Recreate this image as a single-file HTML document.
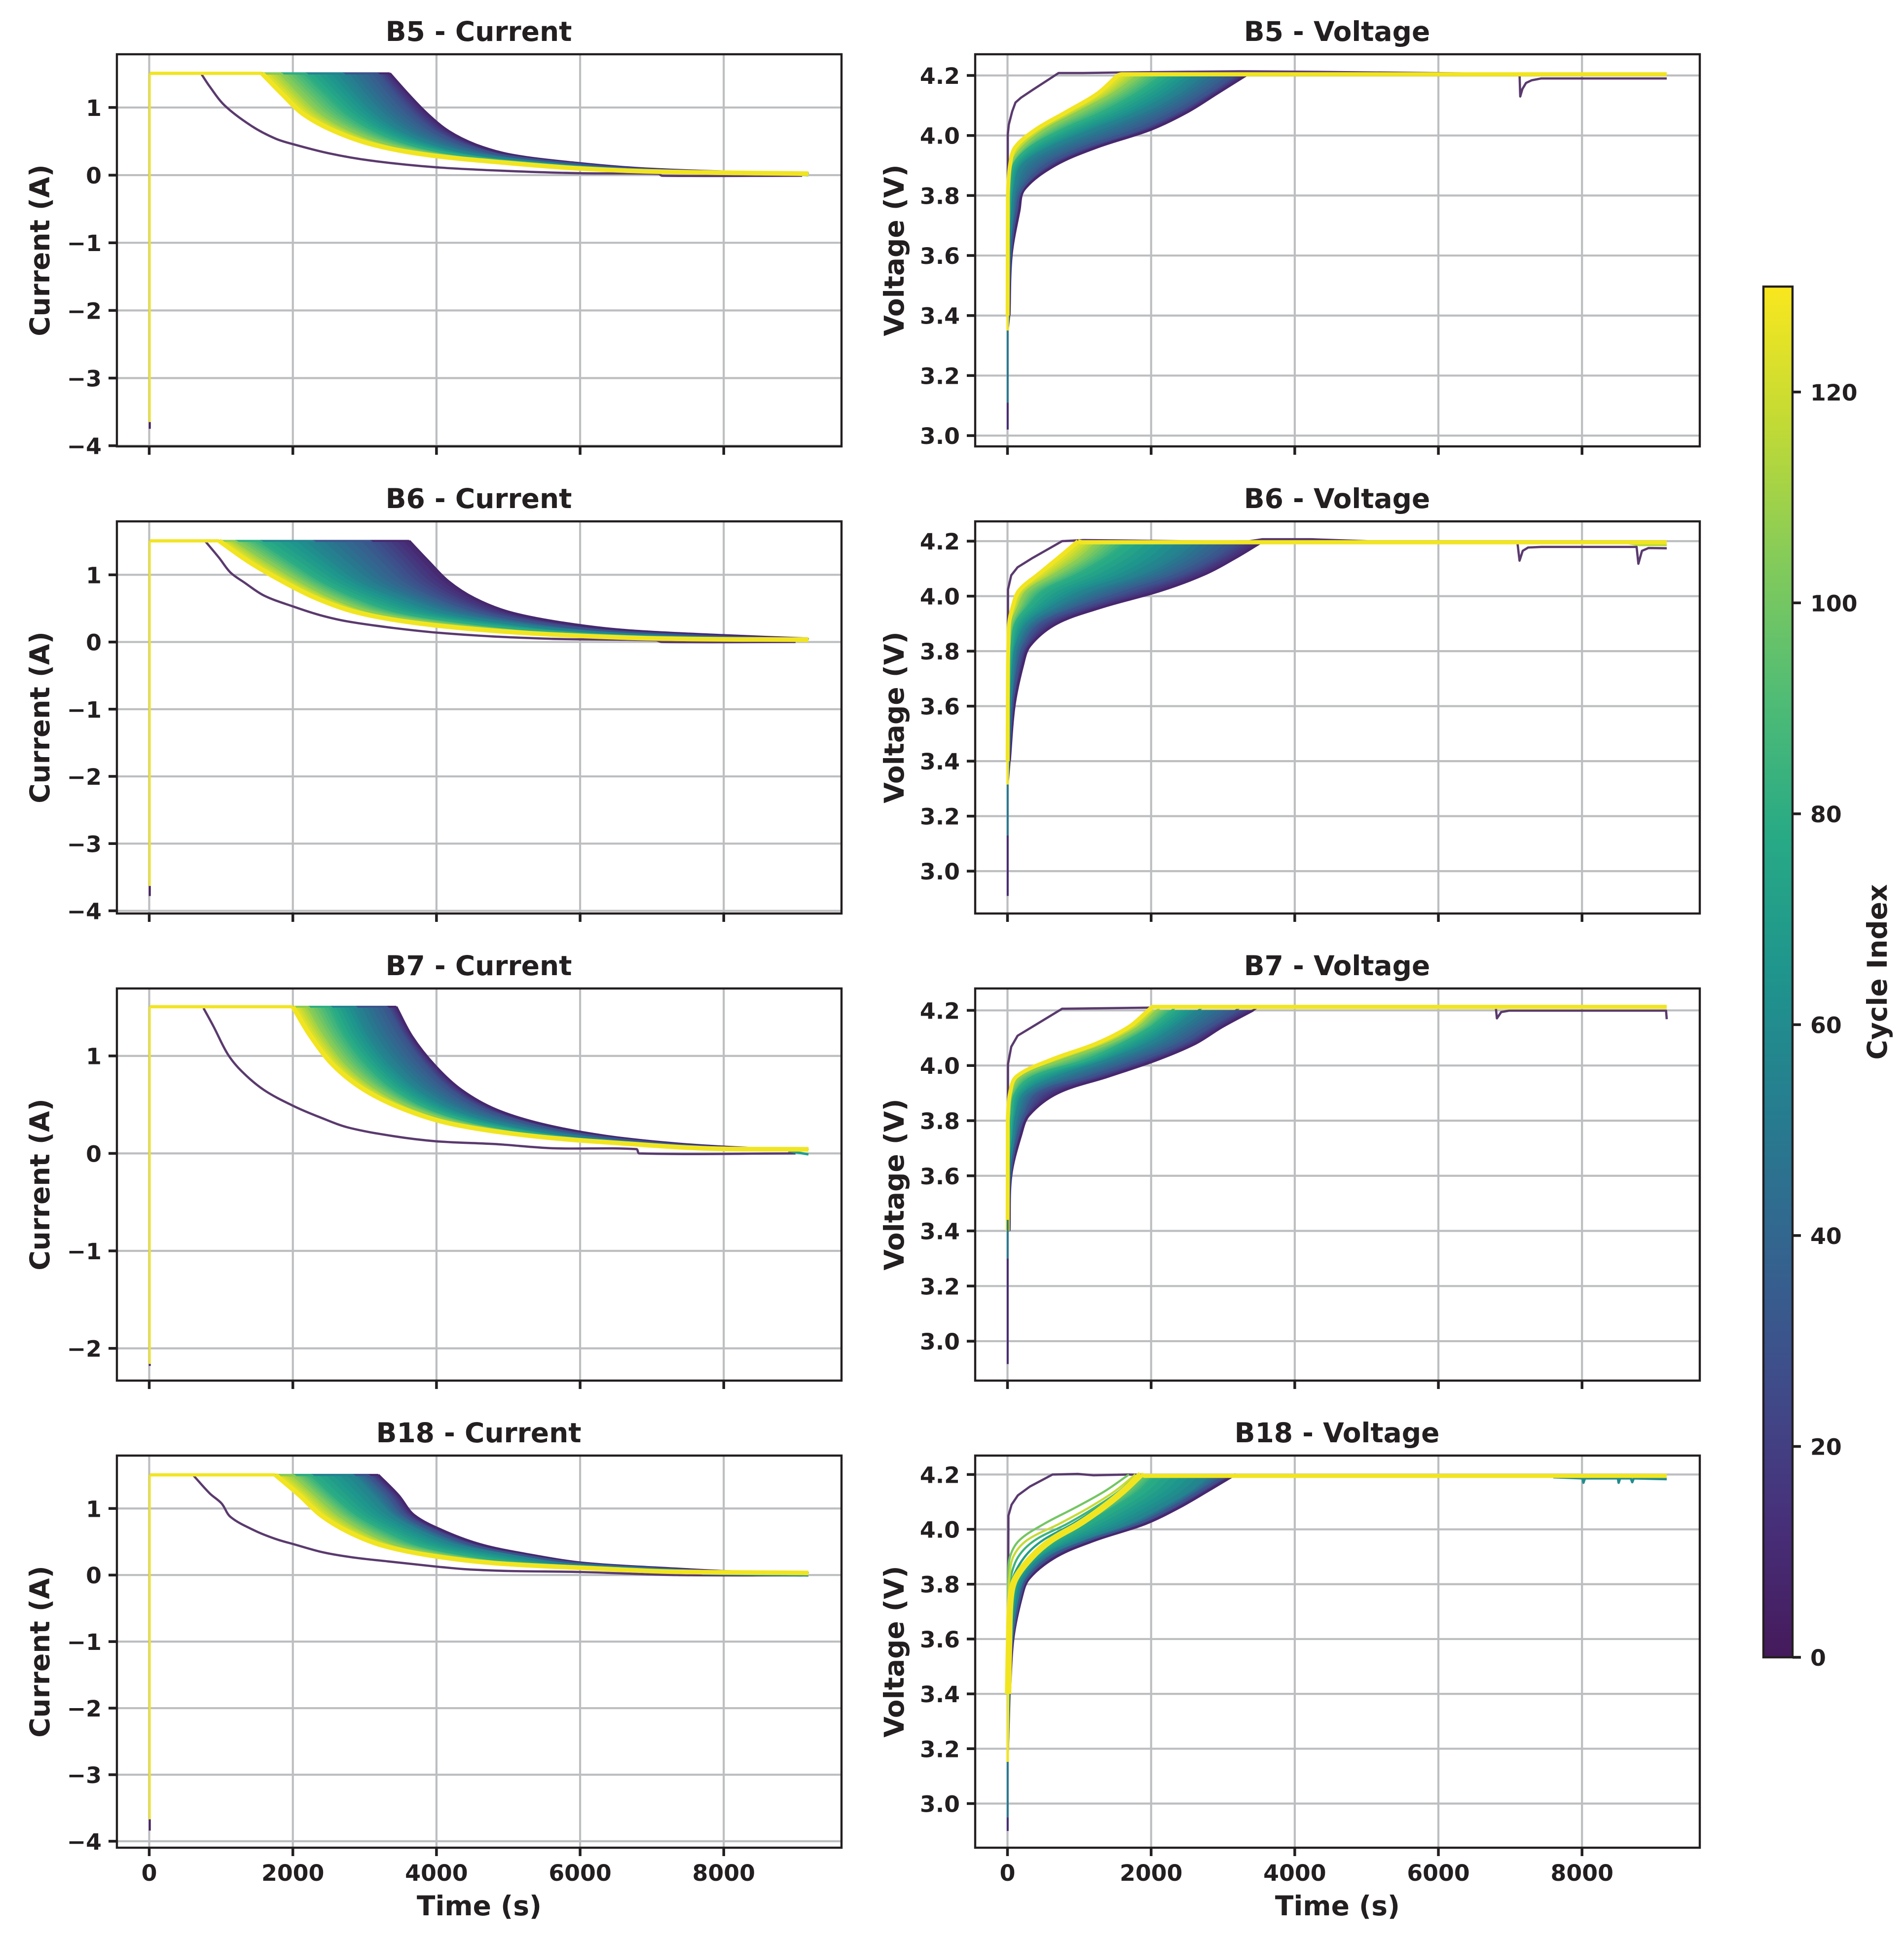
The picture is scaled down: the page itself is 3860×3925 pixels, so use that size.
<!DOCTYPE html>
<html lang="en">
<head>
<meta charset="utf-8">
<title>Battery charge current and voltage by cycle</title>
<style>
  html, body { margin: 0; padding: 0; background: #ffffff; }
  body { width: 3860px; height: 3925px; overflow: hidden; }
  svg { display: block; }
  text { font-family: "DejaVu Sans", "Liberation Sans", sans-serif; font-weight: 700; fill: #231f20; }
</style>
</head>
<body>
<svg id="chart" xmlns="http://www.w3.org/2000/svg" width="3860" height="3925" viewBox="0 0 3860 3925">
  <rect x="0" y="0" width="3860" height="3925" fill="#ffffff"/>
</svg>
<script>
// ---------- shared axes data ----------
const xLimits = [-450, 9640];
const xTicks = [0, 2000, 4000, 6000, 8000];
const xTickLabels = ['0', '2000', '4000', '6000', '8000'];
const currentTicks = [1, 0, -1, -2, -3, -4];
const currentTickLabels = ['1', '0', '\u22121', '\u22122', '\u22123', '\u22124'];
const b7CurrentTicks = [1, 0, -1, -2];
const b7CurrentTickLabels = ['1', '0', '\u22121', '\u22122'];
const voltageTicks = [4.2, 4.0, 3.8, 3.6, 3.4, 3.2, 3.0];
const voltageTickLabels = ['4.2', '4.0', '3.8', '3.6', '3.4', '3.2', '3.0'];
const colorbarTicks = [0, 20, 40, 60, 80, 100, 120];
const colorbarTickLabels = ['0', '20', '40', '60', '80', '100', '120'];
const colorbarRange = [0, 130];

// Cycle index of each typed fan curve (dark to yellow)
const fanCycles = [8, 30, 55, 80, 105, 128];
// Current levels (A) and voltage levels (V) at which curve times were read
const currentLevels = [1.505, 1.2, 0.9, 0.65, 0.45, 0.3, 0.18, 0.1, 0.05];
const voltageLevels = [3.4, 3.6, 3.75, 3.82, 3.9, 3.96, 4.02, 4.08, 4.14, 4.2];
const lastTime = [9180];

// ---------- B5 current ----------
const b5CurrentYLim = [-4.01, 1.787];
const b5CurrentC8 = [3350, 3605, 3880, 4170, 4550, 5050, 5950, 6850, 8050];
const b5CurrentC30 = [3180, 3400, 3660, 3960, 4370, 4900, 5830, 6730, 7930];
const b5CurrentC55 = [2700, 2930, 3200, 3530, 3980, 4580, 5570, 6500, 7690];
const b5CurrentC80 = [2180, 2470, 2770, 3150, 3640, 4300, 5340, 6290, 7470];
const b5CurrentC105 = [1840, 2110, 2410, 2820, 3340, 4050, 5150, 6110, 7280];
const b5CurrentC128 = [1570, 1850, 2150, 2580, 3120, 3870, 5000, 5980, 7150];
const b5CurrentEnd = [0.03, 0.03, 0.028, 0.025, 0.022, 0.022];
const b5CurrentFirstT = [717, 842, 1050, 1425, 1758, 2008, 2508, 3092, 4000, 5008, 6000, 7092, 7142, 9092];
const b5CurrentFirstI = [1.51, 1.31, 1.03, 0.727, 0.54, 0.456, 0.321, 0.214, 0.116, 0.061, 0.028, 0.019, -0.009, -0.009];
const b5CurrentStub = [-3.75, -3.65];
const b5CurrentTailT = [8700, 9000, 9180];
const b5CurrentTailI = [0.02, 0.01, 0];

// ---------- B5 voltage ----------
const b5VoltageYLim = [2.964, 4.2707];
const b5VoltageC8 = [25, 55, 165, 234, 660, 1240, 2000, 2520, 2920, 3320];
const b5VoltageC30 = [20, 45, 125, 203, 530, 1060, 1820, 2360, 2780, 3140];
const b5VoltageC55 = [12, 28, 65, 95, 200, 590, 1200, 1850, 2320, 2650];
const b5VoltageC80 = [6, 12, 28, 34, 80, 310, 770, 1340, 1800, 2160];
const b5VoltageC105 = [3, 5, 12, 15, 40, 210, 526, 1000, 1470, 1820];
const b5VoltageC128 = [2, 3, 5, 8, 35, 105, 395, 830, 1255, 1530];
const b5VoltageEnd = [4.2, 4.2, 4.202, 4.202, 4.204, 4.204];
const b5VoltageFirstT = [4, 4, 18, 65, 111, 188, 357, 557, 711, 1049, 1572, 3230, 4320, 7130, 7140, 7170, 7220, 7300, 7430, 9180];
const b5VoltageFirstV = [3.4, 4.003, 4.036, 4.08, 4.11, 4.126, 4.153, 4.184, 4.208, 4.208, 4.21, 4.214, 4.212, 4.205, 4.13, 4.155, 4.175, 4.184, 4.19, 4.19];
const b5VoltageStub = [3.02, 3.11, 3.35];

// ---------- B6 current ----------
const b6CurrentYLim = [-4.04, 1.795];
const b6CurrentC8 = [3620, 3890, 4170, 4530, 5000, 5680, 6580, 7980, 9170];
const b6CurrentC30 = [3080, 3350, 3640, 4060, 4590, 5300, 6230, 7550, 8900];
const b6CurrentC55 = [2280, 2620, 2990, 3520, 4065, 4850, 5800, 7050, 8400];
const b6CurrentC80 = [1545, 1970, 2405, 2900, 3450, 4300, 5300, 6500, 7900];
const b6CurrentC105 = [1200, 1640, 2100, 2560, 3080, 3880, 4950, 6060, 7450];
const b6CurrentC128 = [975, 1380, 1860, 2330, 2860, 3600, 4650, 5830, 7200];
const b6CurrentEnd = [0.05, 0.05, 0.045, 0.04, 0.036, 0.034];
const b6CurrentFirstT = [780, 975, 1130, 1325, 1600, 2004, 2378, 2768, 3392, 4000, 4795, 5614, 6004, 7056, 7135, 9000];
const b6CurrentFirstI = [1.5, 1.25, 1.035, 0.885, 0.69, 0.528, 0.4, 0.305, 0.21, 0.14, 0.082, 0.047, 0.039, 0.026, 0, 0];
const b6CurrentStub = [-3.78, -3.63];

// ---------- B6 voltage ----------
const b6VoltageYLim = [2.846, 4.272];
const b6VoltageC8 = [30, 95, 215, 315, 685, 1320, 2135, 2750, 3180, 3560];
const b6VoltageC30 = [22, 70, 150, 230, 460, 1000, 1690, 2400, 2860, 3175];
const b6VoltageC55 = [14, 42, 80, 120, 275, 620, 1090, 1800, 2240, 2505];
const b6VoltageC80 = [7, 15, 30, 55, 110, 280, 500, 980, 1380, 1690];
const b6VoltageC105 = [4, 7, 14, 25, 52, 150, 275, 660, 1030, 1280];
const b6VoltageC128 = [2, 4, 7, 12, 22, 70, 160, 430, 710, 982];
const b6VoltageEnd = [4.2, 4.2, 4.199, 4.198, 4.196, 4.196];
const b6VoltageFirstT = [4, 7, 52, 141, 350, 760, 1060, 3300, 3550, 4228, 5645, 7100, 7130, 7175, 7250, 7435, 8760, 8785, 8835, 8925, 9180];
const b6VoltageFirstV = [3.4, 4.024, 4.076, 4.105, 4.139, 4.2, 4.204, 4.197, 4.207, 4.207, 4.194, 4.196, 4.129, 4.165, 4.177, 4.179, 4.179, 4.118, 4.165, 4.175, 4.174];
const b6VoltageStub = [2.91, 3.13, 3.315];
const b6VoltageTailT = [8600, 8800, 9180];
const b6VoltageTailV = [4.195, 4.186, 4.186];

// ---------- B7 current ----------
const b7CurrentYLim = [-2.331, 1.692];
const b7CurrentC8 = [3440, 3660, 3980, 4350, 4830, 5480, 6350, 7350, 8500];
const b7CurrentC30 = [3310, 3540, 3840, 4190, 4660, 5320, 6200, 7200, 8350];
const b7CurrentC55 = [2880, 3090, 3400, 3770, 4260, 4940, 5880, 6990, 8150];
const b7CurrentC80 = [2530, 2740, 3050, 3430, 3930, 4620, 5620, 6850, 8000];
const b7CurrentC105 = [2220, 2460, 2770, 3190, 3720, 4390, 5450, 6750, 7900];
const b7CurrentC128 = [2000, 2250, 2570, 3000, 3560, 4230, 5320, 6650, 7800];
const b7CurrentEnd = [0.042, 0.042, 0.042, 0.042, 0.042, 0.042];
const b7CurrentFirstT = [756, 897, 1092, 1287, 1598, 2004, 2378, 2768, 3392, 4000, 4834, 5614, 6784, 6823, 9000];
const b7CurrentFirstI = [1.49, 1.3, 1.02, 0.843, 0.65, 0.488, 0.37, 0.266, 0.178, 0.124, 0.095, 0.053, 0.044, 0, 0];
const b7CurrentStub = [-2.18, -2.16];
const b7CurrentTailT = [8900, 9100, 9180];
const b7CurrentTailI = [0.025, 0, -0.01];

// ---------- B7 voltage ----------
const b7VoltageYLim = [2.857, 4.2795];
const b7VoltageC8 = [25, 50, 190, 300, 700, 1400, 2080, 2620, 2990, 3420];
const b7VoltageC30 = [20, 42, 145, 240, 425, 1150, 1840, 2420, 2800, 3180];
const b7VoltageC55 = [12, 25, 85, 120, 240, 700, 1390, 1970, 2350, 2660];
const b7VoltageC80 = [6, 12, 35, 55, 110, 360, 1095, 1600, 2000, 2290];
const b7VoltageC105 = [3, 5, 10, 20, 52, 180, 760, 1400, 1830, 2080];
const b7VoltageC128 = [2, 3, 4, 6, 35, 125, 600, 1240, 1690, 1960];
const b7VoltageEnd = [4.21, 4.21, 4.211, 4.212, 4.212, 4.2125];
const b7VoltageFirstT = [4, 7, 52, 141, 350, 760, 2028, 6800, 6815, 6875, 6985, 9170, 9180];
const b7VoltageFirstV = [3.4, 4.005, 4.068, 4.108, 4.141, 4.206, 4.21, 4.21, 4.171, 4.194, 4.199, 4.199, 4.168];
const b7VoltageStub = [2.917, 3.3, 3.44];

// ---------- B18 current ----------
const b18CurrentYLim = [-4.097, 1.795];
const b18CurrentC8 = [3190, 3470, 3690, 4130, 4650, 5330, 6060, 7250, 8200];
const b18CurrentC30 = [3050, 3330, 3560, 3990, 4500, 5200, 5950, 7100, 8050];
const b18CurrentC55 = [2840, 3100, 3370, 3780, 4270, 5000, 5700, 6900, 7850];
const b18CurrentC80 = [2260, 2560, 2900, 3320, 3750, 4400, 5200, 6550, 7600];
const b18CurrentC105 = [2010, 2320, 2640, 3010, 3450, 4080, 4950, 6350, 7450];
const b18CurrentC128 = [1758, 2092, 2390, 2770, 3230, 3880, 4800, 6200, 7300];
const b18CurrentEnd = [0.035, 0.035, 0.03, 0.03, 0.03, 0.03];
const b18CurrentFirstT = [608, 842, 1008, 1133, 1467, 1758, 2000, 2425, 2842, 3342, 4000, 4425, 5008, 6000, 7342, 9092];
const b18CurrentFirstI = [1.506, 1.227, 1.075, 0.872, 0.669, 0.543, 0.467, 0.34, 0.264, 0.203, 0.127, 0.086, 0.061, 0.046, 0, -0.005];
const b18CurrentStub = [-3.84, -3.67];
const b18CurrentTailT = [7700, 8500, 9180];
const b18CurrentTailI = [0.02, 0.005, -0.005];

// ---------- B18 voltage ----------
const b18VoltageYLim = [2.839, 4.269];
const b18VoltageC8 = [30, 79, 195, 300, 680, 1220, 1920, 2395, 2790, 3174];
const b18VoltageC30 = [26, 70, 175, 270, 600, 1130, 1820, 2290, 2680, 3060];
const b18VoltageC55 = [22, 58, 140, 220, 500, 1000, 1660, 2130, 2530, 2800];
const b18VoltageC80 = [12, 30, 75, 130, 380, 680, 1080, 1480, 1830, 2060];
const b18VoltageC105 = [8, 22, 44, 110, 342, 606, 1000, 1330, 1615, 1857];
const b18VoltageC128 = [8, 22, 44, 110, 342, 606, 1000, 1330, 1615, 1857];
const b18VoltageEnd = [4.192, 4.192, 4.192, 4.193, 4.194, 4.195];
const b18VoltageFirstT = [4, 13, 57, 145, 312, 628, 979, 1198, 1681, 2000, 9180];
const b18VoltageFirstV = [3.4, 4.05, 4.09, 4.124, 4.156, 4.2, 4.202, 4.197, 4.2, 4.198, 4.192];
const b18VoltageStub = [2.9, 2.95, 3.152];
// Separate early-fan strands in B18 voltage
const b18VoltageStrandCycles = [70, 85, 100, 118];
const b18VoltageStrand70 = [7, 14, 30, 70, 240, 490, 910, 1270, 1590, 1830];
const b18VoltageStrand85 = [6, 10, 20, 40, 150, 380, 830, 1220, 1560, 1810];
const b18VoltageStrand100 = [3, 5, 8, 10, 35, 165, 510, 950, 1360, 1690];
const b18VoltageStrand118 = [5, 8, 15, 25, 80, 270, 720, 1140, 1500, 1780];
// Tail with small dips, cycle 60
const b18VoltageTailT = [7600, 8010, 8020, 8040, 8500, 8510, 8530, 8680, 8700, 8720, 9180];
const b18VoltageTailV = [4.19, 4.186, 4.17, 4.186, 4.186, 4.17, 4.186, 4.186, 4.172, 4.186, 4.183];

// ---------- layout and palette ----------
const SVG_NS = 'http://www.w3.org/2000/svg';
const chart = document.getElementById('chart');
const colLeft = [237, 1977];
const rowTop = [110, 1057, 2004, 2951];
const AXES_W = 1469;
const AXES_H = 795;
const INK = '#231f20';
const GRID = '#bcbec0';
const FIRST_CYCLE_COLOR = '#5a3a6e';
const BAND_STRIPS = 6;
const viridisStops = ['#451a5b', '#47307a', '#3f4c8a', '#33658f', '#267d8f', '#1f958d', '#28aa85', '#50bc75', '#84cb5a', '#c2da35', '#f9e71e'];

function hexToRgb(h) {
  return [parseInt(h.slice(1, 3), 16), parseInt(h.slice(3, 5), 16), parseInt(h.slice(5, 7), 16)];
}
function viridis(cycle) {
  const f = Math.max(0, Math.min(1, cycle / colorbarRange[1])) * (viridisStops.length - 1);
  const i = Math.min(viridisStops.length - 2, Math.floor(f));
  const a = hexToRgb(viridisStops[i]);
  const b = hexToRgb(viridisStops[i + 1]);
  const u = f - i;
  return 'rgb(' + a.map(function (c, k) { return Math.round(c + (b[k] - c) * u); }).join(',') + ')';
}
function make(tag, attrs, parent) {
  const el = document.createElementNS(SVG_NS, tag);
  Object.keys(attrs).forEach(function (k) { el.setAttribute(k, attrs[k]); });
  parent.appendChild(el);
  return el;
}
function pathFrom(points) {
  return points.map(function (p, i) { return (i ? 'L' : 'M') + p[0].toFixed(1) + ' ' + p[1].toFixed(1); }).join(' ');
}
// Smooth pen path through already-projected points (sharp at both ends)
function smoothSegments(pts) {
  function dir(i) {
    const a = pts[Math.max(i - 1, 0)];
    const b = pts[Math.min(i + 1, pts.length - 1)];
    const dx = b[0] - a[0];
    const dy = b[1] - a[1];
    const n = Math.hypot(dx, dy) || 1;
    return [dx / n, dy / n];
  }
  let d = '';
  for (let i = 0; i < pts.length - 1; i++) {
    const p = pts[i];
    const q = pts[i + 1];
    const len = Math.hypot(q[0] - p[0], q[1] - p[1]) / 3;
    const d0 = dir(i);
    const d1 = dir(i + 1);
    d += ' C' + (p[0] + d0[0] * len).toFixed(1) + ' ' + (p[1] + d0[1] * len).toFixed(1) + ' ' +
      (q[0] - d1[0] * len).toFixed(1) + ' ' + (q[1] - d1[1] * len).toFixed(1) + ' ' +
      q[0].toFixed(1) + ' ' + q[1].toFixed(1);
  }
  return d;
}

const panels = [
  { key: 'b5-current', title: 'B5 - Current', label: 'Current (A)', kind: 'current', col: 0, row: 0, yLim: b5CurrentYLim, ticks: currentTicks, tickLabels: currentTickLabels,
    fan: [b5CurrentC8, b5CurrentC30, b5CurrentC55, b5CurrentC80, b5CurrentC105, b5CurrentC128], end: b5CurrentEnd, firstT: b5CurrentFirstT, firstV: b5CurrentFirstI, stub: b5CurrentStub, tailT: b5CurrentTailT, tailV: b5CurrentTailI, tailCycle: 80 },
  { key: 'b5-voltage', title: 'B5 - Voltage', label: 'Voltage (V)', kind: 'voltage', col: 1, row: 0, yLim: b5VoltageYLim, ticks: voltageTicks, tickLabels: voltageTickLabels,
    fan: [b5VoltageC8, b5VoltageC30, b5VoltageC55, b5VoltageC80, b5VoltageC105, b5VoltageC128], end: b5VoltageEnd, firstT: b5VoltageFirstT, firstV: b5VoltageFirstV, stub: b5VoltageStub },
  { key: 'b6-current', title: 'B6 - Current', label: 'Current (A)', kind: 'current', col: 0, row: 1, yLim: b6CurrentYLim, ticks: currentTicks, tickLabels: currentTickLabels,
    fan: [b6CurrentC8, b6CurrentC30, b6CurrentC55, b6CurrentC80, b6CurrentC105, b6CurrentC128], end: b6CurrentEnd, firstT: b6CurrentFirstT, firstV: b6CurrentFirstI, stub: b6CurrentStub },
  { key: 'b6-voltage', title: 'B6 - Voltage', label: 'Voltage (V)', kind: 'voltage', col: 1, row: 1, yLim: b6VoltageYLim, ticks: voltageTicks, tickLabels: voltageTickLabels,
    fan: [b6VoltageC8, b6VoltageC30, b6VoltageC55, b6VoltageC80, b6VoltageC105, b6VoltageC128], end: b6VoltageEnd, firstT: b6VoltageFirstT, firstV: b6VoltageFirstV, stub: b6VoltageStub, tailT: b6VoltageTailT, tailV: b6VoltageTailV, tailCycle: 115 },
  { key: 'b7-current', title: 'B7 - Current', label: 'Current (A)', kind: 'current', col: 0, row: 2, yLim: b7CurrentYLim, ticks: b7CurrentTicks, tickLabels: b7CurrentTickLabels,
    fan: [b7CurrentC8, b7CurrentC30, b7CurrentC55, b7CurrentC80, b7CurrentC105, b7CurrentC128], end: b7CurrentEnd, firstT: b7CurrentFirstT, firstV: b7CurrentFirstI, stub: b7CurrentStub, tailT: b7CurrentTailT, tailV: b7CurrentTailI, tailCycle: 70 },
  { key: 'b7-voltage', title: 'B7 - Voltage', label: 'Voltage (V)', kind: 'voltage', col: 1, row: 2, yLim: b7VoltageYLim, ticks: voltageTicks, tickLabels: voltageTickLabels,
    fan: [b7VoltageC8, b7VoltageC30, b7VoltageC55, b7VoltageC80, b7VoltageC105, b7VoltageC128], end: b7VoltageEnd, firstT: b7VoltageFirstT, firstV: b7VoltageFirstV, stub: b7VoltageStub },
  { key: 'b18-current', title: 'B18 - Current', label: 'Current (A)', kind: 'current', col: 0, row: 3, yLim: b18CurrentYLim, ticks: currentTicks, tickLabels: currentTickLabels,
    fan: [b18CurrentC8, b18CurrentC30, b18CurrentC55, b18CurrentC80, b18CurrentC105, b18CurrentC128], end: b18CurrentEnd, firstT: b18CurrentFirstT, firstV: b18CurrentFirstI, stub: b18CurrentStub, tailT: b18CurrentTailT, tailV: b18CurrentTailI, tailCycle: 60 },
  { key: 'b18-voltage', title: 'B18 - Voltage', label: 'Voltage (V)', kind: 'voltage', col: 1, row: 3, yLim: b18VoltageYLim, ticks: voltageTicks, tickLabels: voltageTickLabels,
    fan: [b18VoltageC8, b18VoltageC30, b18VoltageC55, b18VoltageC80, b18VoltageC105, b18VoltageC128], end: b18VoltageEnd, firstT: b18VoltageFirstT, firstV: b18VoltageFirstV, stub: b18VoltageStub, heavyYellow: true,
    strands: [b18VoltageStrand70, b18VoltageStrand85, b18VoltageStrand100, b18VoltageStrand118], strandCycles: b18VoltageStrandCycles, tailT: b18VoltageTailT, tailV: b18VoltageTailV, tailCycle: 60 }
];

function drawPanel(p) {
  const left = colLeft[p.col];
  const top = rowTop[p.row];
  const xAxis = function (t) { return left + (t - xLimits[0]) / (xLimits[1] - xLimits[0]) * AXES_W; };
  const yAxis = function (v) { return top + AXES_H - (v - p.yLim[0]) / (p.yLim[1] - p.yLim[0]) * AXES_H; };
  const isCurrent = p.kind === 'current';
  const levels = isCurrent ? currentLevels : voltageLevels;
  const stubT = isCurrent ? 8 : 3;

  const g = make('g', {}, chart);
  
  

  const clip = make('clipPath', { id: 'clip-' + p.key }, g);
  make('rect', { x: left, y: top, width: AXES_W, height: AXES_H }, clip);

  // grid
  xTicks.forEach(function (t) {
    const line = make('line', { x1: xAxis(t), x2: xAxis(t), y1: top, y2: top + AXES_H, stroke: GRID, 'stroke-width': 4.2 }, g);
    
    
  });
  p.ticks.forEach(function (v) {
    const line = make('line', { x1: left, x2: left + AXES_W, y1: yAxis(v), y2: yAxis(v), stroke: GRID, 'stroke-width': 4.2 }, g);
    
    
  });

  const marks = make('g', { 'clip-path': 'url(#clip-' + p.key + ')', fill: 'none', 'stroke-linejoin': 'round' }, g);
  
  

  // early-life curve
  const firstPts = p.firstT.map(function (t, i) { return [xAxis(t), yAxis(p.firstV[i])]; });
  const firstD = isCurrent ? 'M' + firstPts[0][0].toFixed(1) + ' ' + firstPts[0][1].toFixed(1) + smoothSegments(firstPts) : pathFrom(firstPts);
  const first = make('path', { d: firstD, stroke: FIRST_CYCLE_COLOR, 'stroke-width': 4.6 }, marks);
  
  

  // curve points for every fan cycle (current curves also run on to their end value)
  const curves = p.fan.map(function (times, k) {
    const pts = times.map(function (t, i) { return [xAxis(t), yAxis(levels[i])]; });
    if (isCurrent) pts.push([xAxis(lastTime[0]), yAxis(p.end[k])]);
    return pts;
  });

  // filled bands between neighbouring typed curves, shaded across their width
  for (let k = 0; k < curves.length - 1; k++) {
    for (let s = 0; s < BAND_STRIPS; s++) {
      const u0 = s / BAND_STRIPS;
      const u1 = (s + 1) / BAND_STRIPS;
      const edgeA = curves[k].map(function (pt, i) { return [pt[0] + (curves[k + 1][i][0] - pt[0]) * u0, pt[1] + (curves[k + 1][i][1] - pt[1]) * u0]; });
      const edgeB = curves[k].map(function (pt, i) { return [pt[0] + (curves[k + 1][i][0] - pt[0]) * u1, pt[1] + (curves[k + 1][i][1] - pt[1]) * u1]; });
      const reverseB = edgeB.slice().reverse();
      const stripColor = viridis(fanCycles[k] + (fanCycles[k + 1] - fanCycles[k]) * (s + 0.5) / BAND_STRIPS);
      const d = 'M' + edgeA[0][0].toFixed(1) + ' ' + edgeA[0][1].toFixed(1) + smoothSegments(edgeA) +
        ' L' + reverseB[0][0].toFixed(1) + ' ' + reverseB[0][1].toFixed(1) + smoothSegments(reverseB) + ' Z';
      const strip = make('path', { d: d, fill: stripColor, stroke: stripColor, 'stroke-width': 1.5 }, marks);
      
      
    }
  }

  // extra strands sit under the final yellow curve
  if (p.strands) {
    p.strands.forEach(function (times, k) {
      const pts = times.map(function (t, i) { return [xAxis(t), yAxis(levels[i])]; });
      const d = 'M' + pts[0][0].toFixed(1) + ' ' + pts[0][1].toFixed(1) + smoothSegments(pts);
      const strand = make('path', { d: d, stroke: viridis(p.strandCycles[k]), 'stroke-width': 4.4 }, marks);
      
      
    });
  }
  if (p.tailT) {
    const tailPts = p.tailT.map(function (t, i) { return [xAxis(t), yAxis(p.tailV[i])]; });
    const tailLine = make('path', { d: pathFrom(tailPts), stroke: viridis(p.tailCycle), 'stroke-width': 5 }, marks);
    
    
  }

  // each typed curve as a full line: lead-in, fall or rise, then plateau on voltage panels
  curves.forEach(function (pts, k) {
    const isLast = k === curves.length - 1;
    const color = viridis(fanCycles[k]);
    const startV = isCurrent ? 1.505 : p.stub[2];
    const leadIn = make('line', { x1: xAxis(stubT), y1: yAxis(startV), x2: pts[0][0], y2: pts[0][1], stroke: color, 'stroke-width': isLast ? (isCurrent ? 6.5 : 5) : 4 }, marks);
    
    

    const curveWidth = isLast ? (p.heavyYellow ? 13 : (isCurrent ? 9.5 : 8)) : (k === 0 ? 5 : 4);
    const body = make('path', { d: 'M' + pts[0][0].toFixed(1) + ' ' + pts[0][1].toFixed(1) + smoothSegments(pts), stroke: color, 'stroke-width': curveWidth }, marks);
    
    

    if (!isCurrent) {
      const lastPt = pts[pts.length - 1];
      const plateauY = yAxis(p.end[k]);
      const plateau = make('path', { d: pathFrom([lastPt, [lastPt[0] + 8, plateauY], [xAxis(lastTime[0]), plateauY]]), stroke: color, 'stroke-width': isLast ? 8.5 : 4 }, marks);
      
      
    }
  });

  // vertical start-of-charge segments at t = 0
  const sx = xAxis(stubT);
  if (isCurrent) {
    const s1 = make('line', { x1: sx, x2: sx, y1: yAxis(p.stub[0]), y2: yAxis(p.stub[1]), stroke: viridis(3), 'stroke-width': 4 }, marks);
    
    
    const s2 = make('line', { x1: sx, x2: sx, y1: yAxis(p.stub[1]), y2: yAxis(1.505), stroke: viridis(128), 'stroke-width': 4 }, marks);
    
    
  } else {
    const s1 = make('line', { x1: sx, x2: sx, y1: yAxis(p.stub[0]), y2: yAxis(p.stub[1]), stroke: viridis(10), 'stroke-width': 4 }, marks);
    
    
    const s2 = make('line', { x1: sx, x2: sx, y1: yAxis(p.stub[1]), y2: yAxis(p.stub[2]), stroke: viridis(50), 'stroke-width': 4 }, marks);
    
    
  }

  // spines
  const frame = make('rect', { x: left, y: top, width: AXES_W, height: AXES_H, fill: 'none', stroke: INK, 'stroke-width': 4.4 }, g);
  
  

  // x ticks
  xTicks.forEach(function (t, i) {
    const tick = make('line', { x1: xAxis(t), x2: xAxis(t), y1: top + AXES_H, y2: top + AXES_H + 17, stroke: INK, 'stroke-width': 5.5 }, g);
    
    
    if (p.row === 3) {
      const label = make('text', { x: xAxis(t), y: top + AXES_H + 67, 'text-anchor': 'middle', 'font-size': 45.8 }, g);
      label.textContent = xTickLabels[i];
      
      
    }
  });

  // y ticks
  p.ticks.forEach(function (v, i) {
    const tick = make('line', { x1: left - 17, x2: left, y1: yAxis(v), y2: yAxis(v), stroke: INK, 'stroke-width': 5.5 }, g);
    
    
    const label = make('text', { x: left - 31, y: yAxis(v) + 17, 'text-anchor': 'end', 'font-size': 45.8 }, g);
    label.textContent = p.tickLabels[i];
    
    
  });

  // titles and axis labels
  const title = make('text', { x: left + AXES_W / 2 - 1, y: top - 27, 'text-anchor': 'middle', 'font-size': 55 }, g);
  title.textContent = p.title;
  
  

  const labelX = p.col === 0 ? 100 : 1832;
  const yLabel = make('text', { x: 0, y: 0, 'text-anchor': 'middle', 'font-size': 55, transform: 'translate(' + labelX + ' ' + (top + AXES_H / 2) + ') rotate(-90)' }, g);
  yLabel.textContent = p.label;
  
  

  if (p.row === 3) {
    const xLabel = make('text', { x: left + AXES_W / 2, y: top + AXES_H + 137, 'text-anchor': 'middle', 'font-size': 55 }, g);
    xLabel.textContent = 'Time (s)';
    
    
  }
}

panels.forEach(drawPanel);

// ---------- colorbar ----------
(function drawColorbar() {
  const cbLeft = 3575;
  const cbRight = 3634;
  const cbTop = 581;
  const cbBottom = 3360;
  const cbAxis = function (v) { return cbBottom - (v - colorbarRange[0]) / (colorbarRange[1] - colorbarRange[0]) * (cbBottom - cbTop); };

  const g = make('g', {}, chart);
  
  

  const defs = make('defs', {}, g);
  const grad = make('linearGradient', { id: 'viridis-gradient', x1: 0, y1: 1, x2: 0, y2: 0 }, defs);
  viridisStops.forEach(function (c, i) {
    make('stop', { offset: i / (viridisStops.length - 1), 'stop-color': c }, grad);
  });

  const bar = make('rect', { x: cbLeft, y: cbTop, width: cbRight - cbLeft, height: cbBottom - cbTop, fill: 'url(#viridis-gradient)', stroke: INK, 'stroke-width': 4.4 }, g);
  
  

  colorbarTicks.forEach(function (v, i) {
    const tick = make('line', { x1: cbRight, x2: cbRight + 17, y1: cbAxis(v), y2: cbAxis(v), stroke: INK, 'stroke-width': 5.5 }, g);
    
    
    const label = make('text', { x: cbRight + 36, y: cbAxis(v) + 17, 'font-size': 45.8 }, g);
    label.textContent = colorbarTickLabels[i];
    
    
  });

  const title = make('text', { x: 0, y: 0, 'text-anchor': 'middle', 'font-size': 55, transform: 'translate(3825 ' + ((cbTop + cbBottom) / 2) + ') rotate(-90)' }, g);
  title.textContent = 'Cycle Index';
  
  
})();
</script>
</body>
</html>
